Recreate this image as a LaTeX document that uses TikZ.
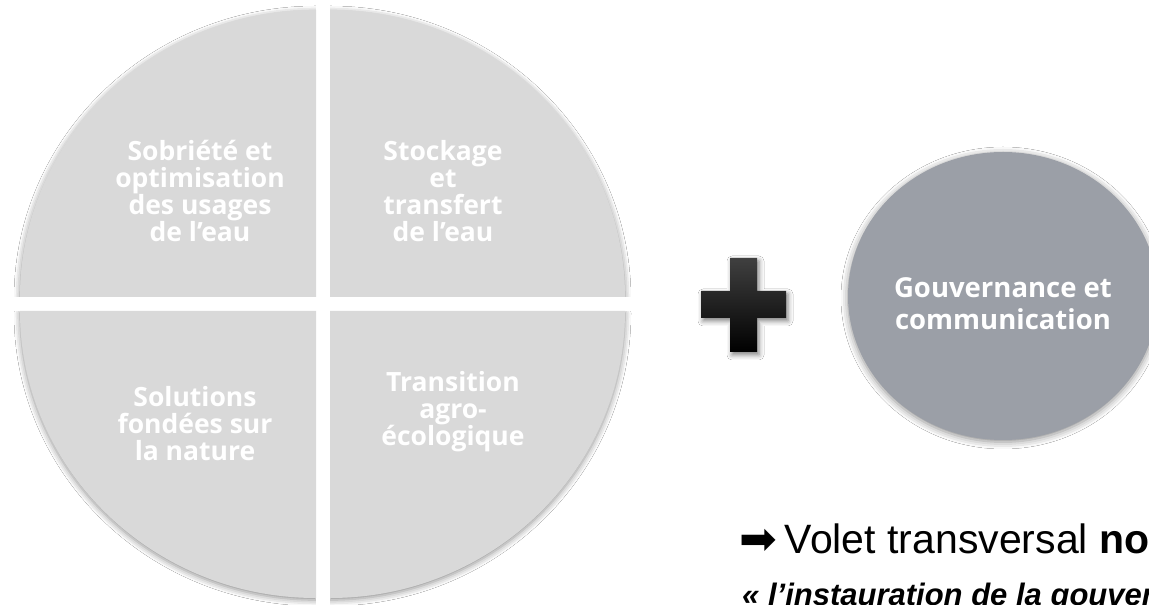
\documentclass[tikz,border=0pt]{standalone}
\usepackage{fontspec}
\setmainfont{Liberation Sans}
\newfontfamily\segfont{Open Sans}
\newfontfamily\symfont{DejaVu Sans}
\usetikzlibrary{shadows.blur,shapes.geometric}
\definecolor{quadgray}{RGB}{217,217,217}
\definecolor{govgray}{RGB}{155,159,167}
\tikzset{
  quadshadow/.style={blur shadow={shadow xshift=0pt, shadow yshift=-2pt, shadow blur radius=6pt, shadow opacity=45}},
  quad/.style={fill=quadgray},
  quadtext/.style={text=white, align=center, inner sep=0pt, font=\segfont\bfseries\fontsize{26.5}{27}\selectfont},
  govcircle/.style={ellipse, fill=govgray, draw=none, minimum width=310pt, minimum height=288pt, inner sep=0pt,
     blur shadow={shadow xshift=0pt, shadow yshift=-2pt, shadow blur radius=7pt, shadow opacity=45}},
  govtext/.style={text=white, align=center, inner sep=0pt, font=\segfont\bfseries\fontsize{27.5}{32}\selectfont},
  plusshape/.style={top color=black!75, middle color=black, bottom color=black,
     blur shadow={shadow xshift=2pt, shadow yshift=-3pt, shadow blur radius=5pt, shadow opacity=50}},
  bigline/.style={anchor=base west, inner sep=0pt, font=\fontsize{41}{45}\selectfont},
  quoteline/.style={anchor=base west, inner sep=0pt, font=\bfseries\itshape\fontsize{31}{35}\selectfont}
}
\def\qA{(316,308) -- (20,308) arc[start angle=180, end angle=90, x radius=296, y radius=287] -- cycle}
\def\qB{(330,308) -- (330,595) arc[start angle=90, end angle=0, x radius=295, y radius=287] -- cycle}
\def\qC{(316,294) -- (20,294) arc[start angle=180, end angle=270, x radius=296, y radius=287] -- cycle}
\def\qD{(330,294) -- (625,294) arc[start angle=0, end angle=-90, x radius=295, y radius=287] -- cycle}
\begin{document}
\begin{tikzpicture}[x=1pt,y=1pt]
\useasboundingbox (0,0) rectangle (1149,605);
\fill[white] (0,0) rectangle (1149,605);
\clip (0,0) rectangle (1149,605);

% shadows of the four quadrants, then the gaps cleared, then the fills
\path[quadshadow] \qA;
\path[quadshadow] \qB;
\path[quadshadow] \qC;
\path[quadshadow] \qD;
\fill[white] (316,0) rectangle (330,605);
\fill[white] (0,294) rectangle (650,308);
\path[quad] \qA;
\path[quad] \qB;
\path[quad] \qC;
\path[quad] \qD;

\node[quadtext] (q1) at (200,414) {Sobriété et\\optimisation\\des usages\\de l’eau};
\node[quadtext] (q2) at (443,414) {Stockage\\et\\transfert\\de l’eau};
\node[quadtext] (q3) at (195,181) {Solutions\\fondées sur\\la nature};
\node[quadtext] (q4) at (453,193) {Transition\\agro-\\écologique};

% plus sign
\shade[plusshape] (701,287) -- (730,287) -- (730,253) -- (757,253) -- (757,287) -- (786,287)
  -- (786,314) -- (757,314) -- (757,347) -- (730,347) -- (730,314) -- (701,314) -- cycle;

% governance circle
\node[govcircle] (gov) at (1003,309) {};
\node[govtext] (govlabel) at (1003,301) {Gouvernance et\\communication};

% texts
\node[bigline] (volet) at (739,51) {{\symfont\fontsize{45}{45}\selectfont\raisebox{-1pt}{➡}}\hspace{8pt}Volet transversal \textbf{no}};
\node[quoteline] (instaur) at (742,-1) {« l’instauration de la gouver};
\end{tikzpicture}
\end{document}
